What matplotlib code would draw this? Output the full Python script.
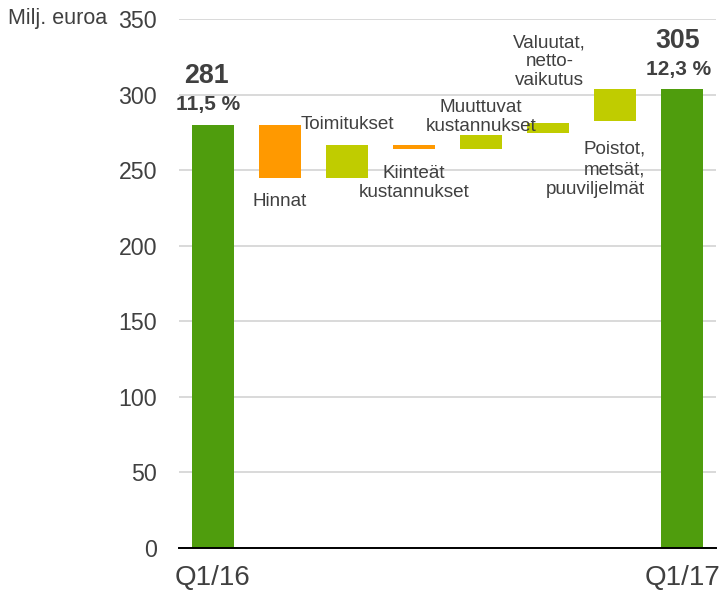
import matplotlib.pyplot as plt
import numpy as np

plt.rcParams['font.family'] = ['Liberation Sans', 'DejaVu Sans']

# waterfall bars: bottom and top of each bar (Milj. euroa)
categories = ['Q1/16', 'Hinnat', 'Toimitukset', 'Kiinteät kustannukset',
              'Muuttuvat kustannukset', 'Valuutat, nettovaikutus',
              'Poistot, metsät, puuviljelmät', 'Q1/17']
bar_low = [0, 244.5, 244.5, 263.7, 263.7, 274.7, 282.4, 0]
bar_high = [280.2, 280.2, 266.5, 266.5, 273.1, 280.9, 304.0, 304.0]
tick_labels = ['Q1/16', '', '', '', '', '', '', 'Q1/17']
totals = ['281', '305']
margins = ['11,5 %', '12,3 %']

GREEN = '#4f9d0d'
ORANGE = '#ff9900'
LIME = '#c0cc00'
bar_colors = [GREEN, ORANGE, LIME, ORANGE, LIME, LIME, LIME, GREEN]
TXT = '#404040'

fig = plt.figure(figsize=(7.2, 5.94), dpi=100)
ax = fig.add_axes([0.249, 0.0774, 0.745, 0.8906])

x = np.arange(len(categories))
heights = np.array(bar_high) - np.array(bar_low)
ax.bar(x, heights, bottom=bar_low, width=0.63, color=bar_colors, zorder=3)

ax.set_xlim(-0.5, len(categories) - 0.5)
ax.set_ylim(0, 350)
ax.set_yticks(range(0, 351, 50))
ax.set_xticks(x)
ax.set_xticklabels(tick_labels)
ax.tick_params(axis='both', length=0, colors=TXT)
ax.tick_params(axis='y', labelsize=16.7, pad=16)
ax.tick_params(axis='x', labelsize=20, pad=12)
ax.grid(axis='y', color='#d9d9d9', linewidth=1.4, zorder=0)
ax.set_axisbelow(True)
for s in ['top', 'right', 'left']:
    ax.spines[s].set_visible(False)
ax.spines['bottom'].set_color('black')
ax.spines['bottom'].set_linewidth(1.4)
ax.spines['bottom'].set_zorder(4)

fig.text(0.011, 0.969, 'Milj. euroa', fontsize=15.5, color=TXT, va='center', ha='left')

# totals and margins above the end bars
ax.text(-0.1, 312, totals[0], ha='center', va='center', fontsize=19.3,
        fontweight='bold', color=TXT)
ax.text(-0.07, 293.5, margins[0], ha='center', va='center', fontsize=15,
        fontweight='bold', color=TXT)
ax.text(6.93, 335.3, totals[1], ha='center', va='center', fontsize=19.3,
        fontweight='bold', color=TXT)
ax.text(6.95, 316.8, margins[1], ha='center', va='center', fontsize=15,
        fontweight='bold', color=TXT)

# step labels
lab = dict(fontsize=13.6, color=TXT, va='center', linespacing=1.15)
ax.text(1, 229, 'Hinnat', ha='center', **lab)
ax.text(2, 280, 'Toimitukset', ha='center', **lab)
ax.text(3, 241.7, 'Kiinteät\nkustannukset', ha='center', **lab)
ax.text(4, 285, 'Muuttuvat\nkustannukset', ha='center', **lab)
ax.text(5.02, 321.6, 'Valuutat,\nnetto-\nvaikutus', ha='center', **lab)
ax.text(6.45, 250.4, 'Poistot,\nmetsät,\npuuviljelmät', ha='right',
        fontsize=13.6, color=TXT, va='center', linespacing=1.25)

fig.savefig('out.png', dpi=100)
